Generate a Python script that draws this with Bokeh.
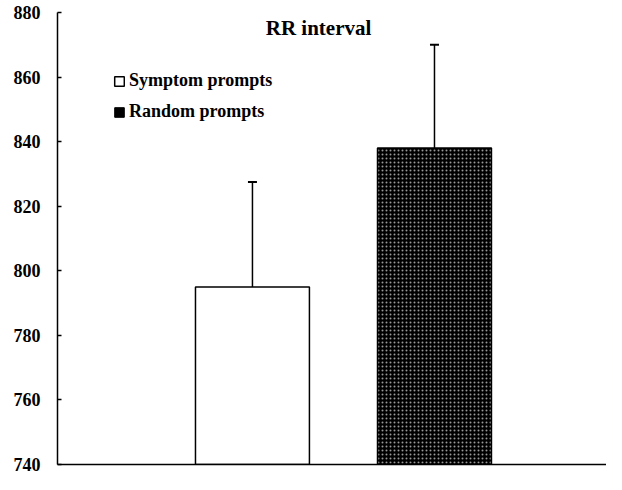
from bokeh.plotting import figure
from bokeh.models import ColumnDataSource, Whisker, TeeHead, Label, Legend, LegendItem, FixedTicker, Range1d
from bokeh.embed import file_html
from bokeh.resources import INLINE

categories = ["Symptom prompts", "Random prompts"]
means = [795, 838]
sds = [32.5, 32]
yticks = [740, 760, 780, 800, 820, 840, 860, 880]

xs = list(range(len(categories)))
upper = [m + s for m, s in zip(means, sds)]

src = ColumnDataSource(dict(x=xs, mean=means, upper=upper, cat=categories))

p = figure(width=606, height=474, output_backend="svg", toolbar_location=None,
           x_range=Range1d(-1.071, 1.945), y_range=Range1d(740, 880),
           min_border_left=57, min_border_right=0, min_border_top=12, min_border_bottom=10)
p.grid.visible = False
p.outline_line_color = None
p.background_fill_color = "white"

# y axis
p.yaxis.ticker = FixedTicker(ticks=yticks)
p.yaxis.major_tick_in = 4
p.yaxis.major_tick_out = 0
p.yaxis.minor_tick_in = 0
p.yaxis.minor_tick_out = 0
p.yaxis.axis_line_width = 1.5
p.yaxis.major_tick_line_width = 1.5
p.yaxis.major_tick_line_color = "black"
p.yaxis.major_label_text_font = "Liberation Serif"
p.yaxis.major_label_text_font_style = "bold"
p.yaxis.major_label_text_font_size = "18px"
p.yaxis.major_label_text_color = "black"
p.yaxis.major_label_standoff = 17
p.yaxis.axis_line_color = "black"

# x axis: only a line
p.xaxis.ticker = FixedTicker(ticks=[])
p.xaxis.major_tick_out = 0
p.xaxis.major_tick_in = 0
p.xaxis.minor_tick_out = 0
p.xaxis.axis_line_width = 1.5
p.xaxis.axis_line_color = "black"
p.xaxis.major_label_text_font_size = "0px"

bw = 0.626
r1 = p.vbar(x=[xs[0]], top=[means[0]], bottom=740, width=bw, fill_color="white",
            line_color="black", line_width=1.5)
r2 = p.vbar(x=[xs[1]], top=[means[1]], bottom=740, width=bw, fill_color="black",
            line_color="black", line_width=1.5, hatch_pattern="dot", hatch_color="white",
            hatch_scale=4, hatch_weight=1.3, hatch_alpha=0.6)
# legend-only swatch (top is NaN so nothing is drawn): solid black square as in the reference
r2_leg = p.vbar(x=[xs[1]], top=[float("nan")], bottom=740, width=bw, fill_color="black",
                line_color="black")

w = Whisker(base="x", lower="mean", upper="upper", source=src, level="underlay",
            lower_head=None, upper_head=TeeHead(size=9, line_width=2, line_color="black"),
            line_width=1.5, line_color="black")
p.add_layout(w)

title = Label(x=261, y=437, x_units="screen", y_units="screen", text="RR interval",
              text_font="Liberation Serif", text_font_style="bold", text_font_size="21px",
              text_color="black", text_align="center", text_baseline="middle")
p.add_layout(title)

legend = Legend(items=[LegendItem(label=categories[0], renderers=[r1]),
                       LegendItem(label=categories[1], renderers=[r2_leg])],
                location=(56, 342), padding=0, margin=0, spacing=10,
                glyph_width=12, glyph_height=12, label_standoff=4, label_height=20,
                border_line_color=None, background_fill_alpha=0,
                label_text_font="Liberation Serif", label_text_font_style="bold",
                label_text_font_size="18px", label_text_color="black")
p.add_layout(legend)

open("out.html", "w").write(file_html(p, INLINE))
